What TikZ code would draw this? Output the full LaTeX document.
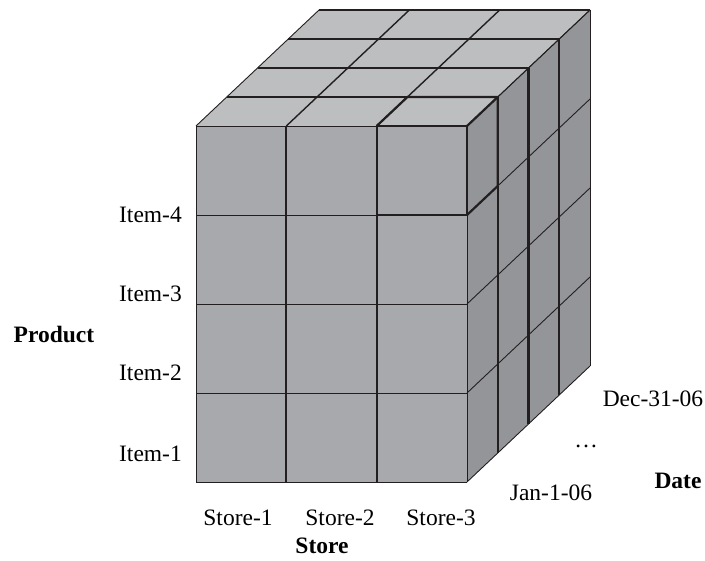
\documentclass[tikz,border=0pt]{standalone}
\usepackage{fontspec}
\setmainfont{Liberation Serif}
\definecolor{frontgray}{HTML}{A7A9AC}
\definecolor{topgray}{HTML}{BCBEC0}
\definecolor{sidegray}{HTML}{939598}
\definecolor{edgeblack}{HTML}{231F20}
\tikzset{
  lbl/.style={font=\fontsize{23.5}{28}\selectfont, inner sep=0pt},
  boldlbl/.style={font=\fontsize{23.5}{28}\selectfont\bfseries, inner sep=0pt},
  thinedge/.style={draw=edgeblack, line width=0.9pt},
  midedge/.style={draw=edgeblack, line width=1.4pt},
  thickedge/.style={draw=edgeblack, line width=2.2pt, line join=round}
}

\begin{document}
\begin{tikzpicture}[x=1pt,y=-1pt]
        \useasboundingbox (0,0) rectangle (705,561);
        % Faces of the cube
        \fill[frontgray] (196,126) rectangle (467,482);
        \fill[topgray] (196,126) -- (467,126) -- (590,10) -- (319,10) -- cycle;
        \fill[sidegray] (467,126) -- (590,10) -- (590,366) -- (467,482) -- cycle;
        % Top face
        \foreach \k in {1,...,4}
          \draw[midedge] (196+30.75*\k,126-29*\k) -- (467+30.75*\k,126-29*\k);
        \draw[thinedge] (196,126) -- (319,10);
        \draw[midedge] (286.33,126) -- (409.33,10);
        \draw[midedge] (376.67,126) -- (499.67,10);
        \draw[thinedge] (467,126) -- (590,10);
        % Side face
        \foreach \j in {0,...,4}
          \draw[thinedge] (467,126+89*\j) -- (590,10+89*\j);
        \foreach \k in {1,...,3}
          \draw[thickedge] (467+30.75*\k,126-29*\k) -- (467+30.75*\k,482-29*\k);
        \draw[thinedge] (590,10) -- (590,366);
        % Front face
        \foreach \j in {0,...,4}
          \draw[thinedge] (196,126+89*\j) -- (467,126+89*\j);
        \draw[thinedge] (196,126) -- (196,482);
        \draw[thickedge] (286.33,126) -- (286.33,482);
        \draw[thickedge] (376.67,126) -- (376.67,482);
        \draw[thinedge] (467,126) -- (467,482);
        % Store-3 / Item-4 cube
        \draw[thickedge] (376.67,126) rectangle (467,215);
        \draw[thickedge] (376.67,126) -- (407.42,97) -- (497.75,97) -- (467,126);
        \draw[thickedge] (467,215) -- (497.75,186) -- (497.75,97);
        % Labels
        \node[lbl, anchor=east] (item4) at (182,215) {Item-4};
        \node[lbl, anchor=east] (item3) at (182,294) {Item-3};
        \node[lbl, anchor=east] (item2) at (182,373) {Item-2};
        \node[lbl, anchor=east] (item1) at (182,454) {Item-1};
        \node[boldlbl] (product) at (54,334) {Product};
        \node[lbl] (store1) at (238,518) {Store-1};
        \node[lbl] (store2) at (340,518) {Store-2};
        \node[lbl] (store3) at (441,518) {Store-3};
        \node[boldlbl] (store) at (322,546) {Store};
        \node[lbl] (jan) at (551,493) {Jan-1-06};
        \node[lbl] (dots) at (586,446) {\ldots};
        \node[lbl] (dec) at (653,399) {Dec-31-06};
        \node[boldlbl] (date) at (678,481) {Date};
\end{tikzpicture}
\end{document}
